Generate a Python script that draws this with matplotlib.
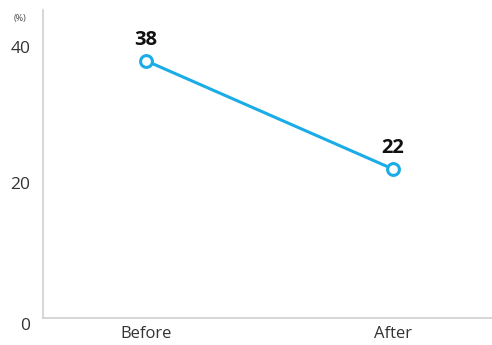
import matplotlib.pyplot as plt

categories = ["Before", "After"]
values = [38, 22]
y_ticks = [0, 20, 40]

plt.rcParams['font.family'] = ['Open Sans', 'DejaVu Sans']

fig = plt.figure(figsize=(4.92, 3.45), dpi=100)
ax = fig.add_axes([0.0874, 0.078, 0.9126, 0.893])

xs = list(range(len(categories)))
ax.plot(xs, values, color='#1aace6', linewidth=2.2, marker='o', markersize=8.5,
        markerfacecolor='white', markeredgecolor='#1aace6', markeredgewidth=2.2,
        zorder=3)

# value labels above each point
for x, v in zip(xs, values):
    ax.annotate(str(v), (x, v), textcoords="offset points", xytext=(0, 8),
                ha='center', va='bottom', fontsize=14.5, fontweight='bold',
                color='#111111')

ax.set_xlim(-0.417, 1.40)
ax.set_ylim(0, 45.5)
ax.set_xticks(xs)
ax.set_xticklabels(categories, fontsize=12, color='#333333')
ax.set_yticks(y_ticks)
ax.set_yticklabels([str(t) for t in y_ticks], fontsize=12.5, color='#333333')
ax.tick_params(axis='both', length=0)
ax.tick_params(axis='y', pad=9)
ax.tick_params(axis='x', pad=6)
ax.yaxis.get_majorticklabels()[0].set_va('top')

for side in ('top', 'right'):
    ax.spines[side].set_visible(False)
for side in ('left', 'bottom'):
    ax.spines[side].set_color('#d0d0d0')
    ax.spines[side].set_linewidth(1.2)

fig.text(20 / 492, 1 - 18 / 345, "(%)", fontsize=6.5, color='#444444',
         ha='center', va='center')

fig.savefig("out.png", dpi=100)
